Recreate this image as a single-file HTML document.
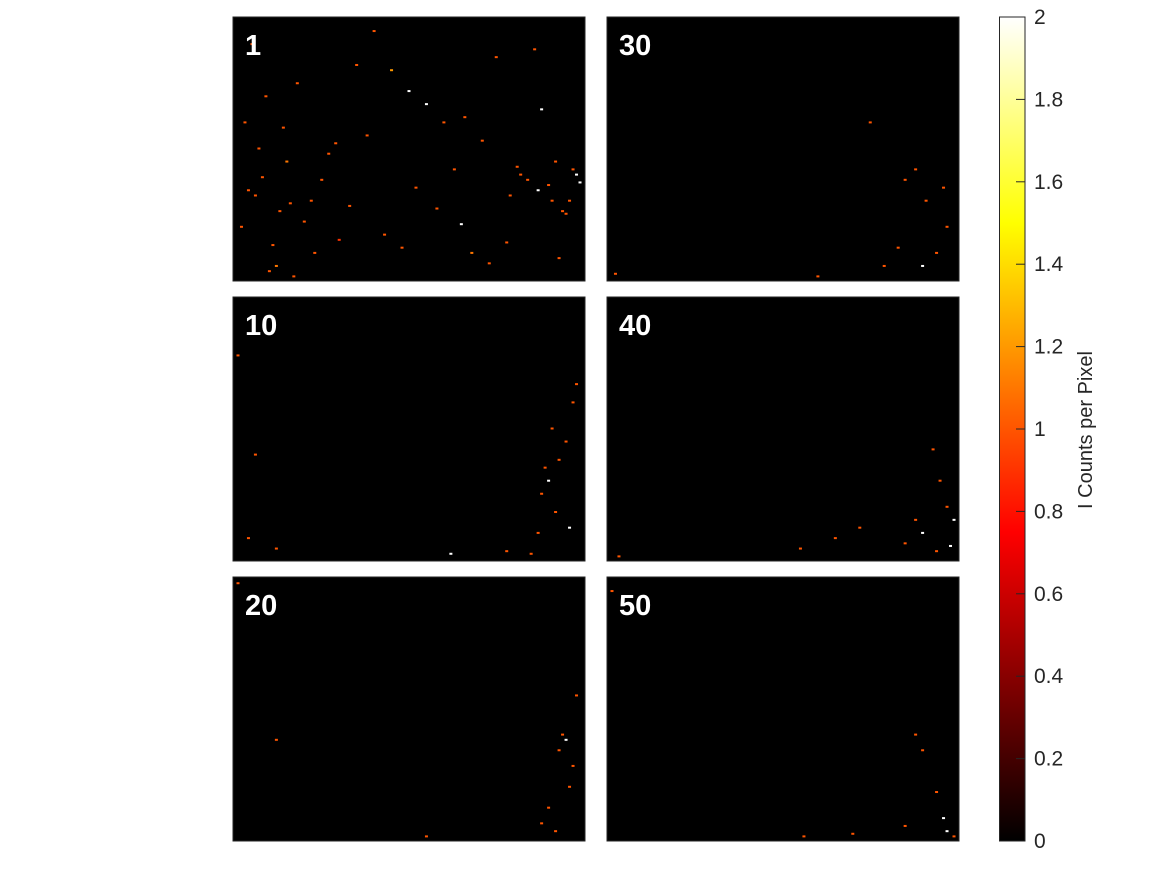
<!DOCTYPE html>
<html><head><meta charset="utf-8"><style>
body{margin:0;background:#fff;width:1167px;height:875px;overflow:hidden;font-family:"Liberation Sans",sans-serif}
</style></head><body>
<svg id="fig" width="1167" height="875">
<defs><linearGradient id="hot" x1="0" y1="1" x2="0" y2="0">
<stop offset="0" stop-color="#000"/><stop offset="0.375" stop-color="#f00"/><stop offset="0.75" stop-color="#ff0"/><stop offset="1" stop-color="#fff"/></linearGradient></defs>
<g id="panels"></g>
<g id="cbar"></g>
</svg>
<script>
const panelLabels=["1","10","20","30","40","50"];
const tickValues=[0,0.2,0.4,0.6,0.8,1,1.2,1.4,1.6,1.8,2];
const cbarTitle="I Counts per Pixel";
// sparse counts per panel: x, y in fraction of panel, value in counts
const dotsX=[
[0.05,0.09,0.15,0.22,0.30,0.38,0.45,0.52,0.60,0.68,0.75,0.82,0.88,0.95,0.02,0.07,0.12,0.18,0.25,0.33,0.40,0.48,0.55,0.63,0.71,0.79,0.86,0.93,0.98,0.04,0.10,0.14,0.20,0.27,0.35,0.43,0.50,0.58,0.66,0.73,0.81,0.90,0.96,0.06,0.13,0.17,0.23,0.29,0.84,0.87,0.91,0.94,0.97,0.99,0.03,0.08,0.11,0.16,0.65,0.78,0.92],
[0.01,0.04,0.12,0.85,0.88,0.90,0.93,0.95,0.96,0.97,0.98,0.92,0.89,0.06,0.62,0.78,0.91,0.87],
[0.94,0.95,0.93,0.97,0.96,0.90,0.88,0.98,0.55,0.12,0.92,0.01],
[0.85,0.88,0.91,0.94,0.97,0.79,0.83,0.90,0.96,0.60,0.02,0.75],
[0.93,0.95,0.97,0.90,0.88,0.85,0.65,0.72,0.99,0.94,0.98,0.03,0.55],
[0.88,0.90,0.94,0.96,0.56,0.70,0.85,0.97,0.01,0.99]];
const dotsY=[
[0.10,0.30,0.55,0.70,0.85,0.45,0.20,0.65,0.40,0.90,0.15,0.60,0.35,0.75,0.80,0.50,0.95,0.25,0.62,0.72,0.05,0.88,0.33,0.58,0.47,0.68,0.12,0.92,0.60,0.66,0.97,0.42,0.78,0.52,0.18,0.83,0.28,0.73,0.38,0.94,0.57,0.64,0.70,0.68,0.74,0.99,0.90,0.48,0.62,0.66,0.70,0.74,0.58,0.63,0.40,0.61,0.87,0.71,0.79,0.86,0.55],
[0.22,0.92,0.96,0.98,0.75,0.70,0.62,0.55,0.88,0.40,0.33,0.82,0.65,0.60,0.98,0.97,0.50,0.90],
[0.60,0.62,0.66,0.72,0.80,0.88,0.94,0.45,0.99,0.62,0.97,0.02],
[0.62,0.58,0.70,0.90,0.80,0.95,0.88,0.95,0.65,0.99,0.98,0.40],
[0.58,0.70,0.80,0.90,0.85,0.94,0.92,0.88,0.85,0.97,0.95,0.99,0.96],
[0.60,0.66,0.82,0.92,0.99,0.98,0.95,0.97,0.05,0.99]];
const dotsV=[
[1,1,1.1,1,0.9,1,1.2,1,1,1.1,1,1,2,1,1,1,1.1,1,1,1,1,1,2,1,1,1,1,1,2,1,1,1,1,1,1,1,2,1,1,1,1,1,1,1,1,1,1,1,1,2,1,1,1,2,1,1,1,1,2,1,1],
[1,1,1,1,1,2,1,1,2,1,1,1,1,1,2,1,1,1],
[1,2,1,1,1,1,1,1,1,1,1,1],
[1,1,1,1,1,1,1,2,1,1,1,1],
[1,1,1,2,1,1,1,1,2,1,2,1,1],
[1,1,1,2,1,1,1,2,1,1]];
function hot(v){const t=Math.max(0,Math.min(1,v/2));
const r=Math.min(1,t/0.375),g=Math.max(0,Math.min(1,(t-0.375)/0.375)),b=Math.max(0,Math.min(1,(t-0.75)/0.25));
return `rgb(${Math.round(r*255)},${Math.round(g*255)},${Math.round(b*255)})`;}
const NS="http://www.w3.org/2000/svg";
function mk(t,a,p){const e=document.createElementNS(NS,t);for(const k in a)e.setAttribute(k,a[k]);p.appendChild(e);return e;}
const colX=[233,607],rowY=[17,297,577],PW=352,PH=264;
const order=[[0,0],[0,1],[0,2],[1,0],[1,1],[1,2]];
const P=document.getElementById('panels');
order.forEach(([c,r],i)=>{
const x0=colX[c],y0=rowY[r];
const g=mk('g',{},P);


mk('rect',{x:x0,y:y0,width:PW,height:PH,fill:'#000',stroke:'#262626','stroke-width':1},g);
dotsX[i].forEach((fx,j)=>{
const d=mk('rect',{x:x0+fx*(PW-3),y:y0+dotsY[i][j]*(PH-3),width:3,height:2,fill:hot(dotsV[i][j])},g);

});
const t=mk('text',{x:x0+12,y:y0+38,fill:'#fff','font-size':29,'font-weight':'bold','font-family':'Liberation Sans, sans-serif'},g);
t.textContent=panelLabels[i];

});
const C=document.getElementById('cbar');
const cx=999.5,cw=25.5,cy0=17,cy1=841;
mk('rect',{x:cx,y:cy0,width:cw,height:cy1-cy0,fill:'url(#hot)',stroke:'#262626','stroke-width':1},C);
const ys=v=>cy1-(v/2)*(cy1-cy0);
tickValues.forEach(v=>{
const y=ys(v);
mk('line',{x1:cx+cw-9,x2:cx+cw,y1:y,y2:y,stroke:'#262626','stroke-width':1},C);
const t=mk('text',{x:1034,y:y+7,fill:'#262626','font-size':21},C);
t.textContent=String(v);

});
const ct=mk('text',{x:1092,y:430,fill:'#262626','font-size':20,'text-anchor':'middle',transform:'rotate(-90 1092 430)'},C);
ct.textContent=cbarTitle;


</script>
</body></html>
